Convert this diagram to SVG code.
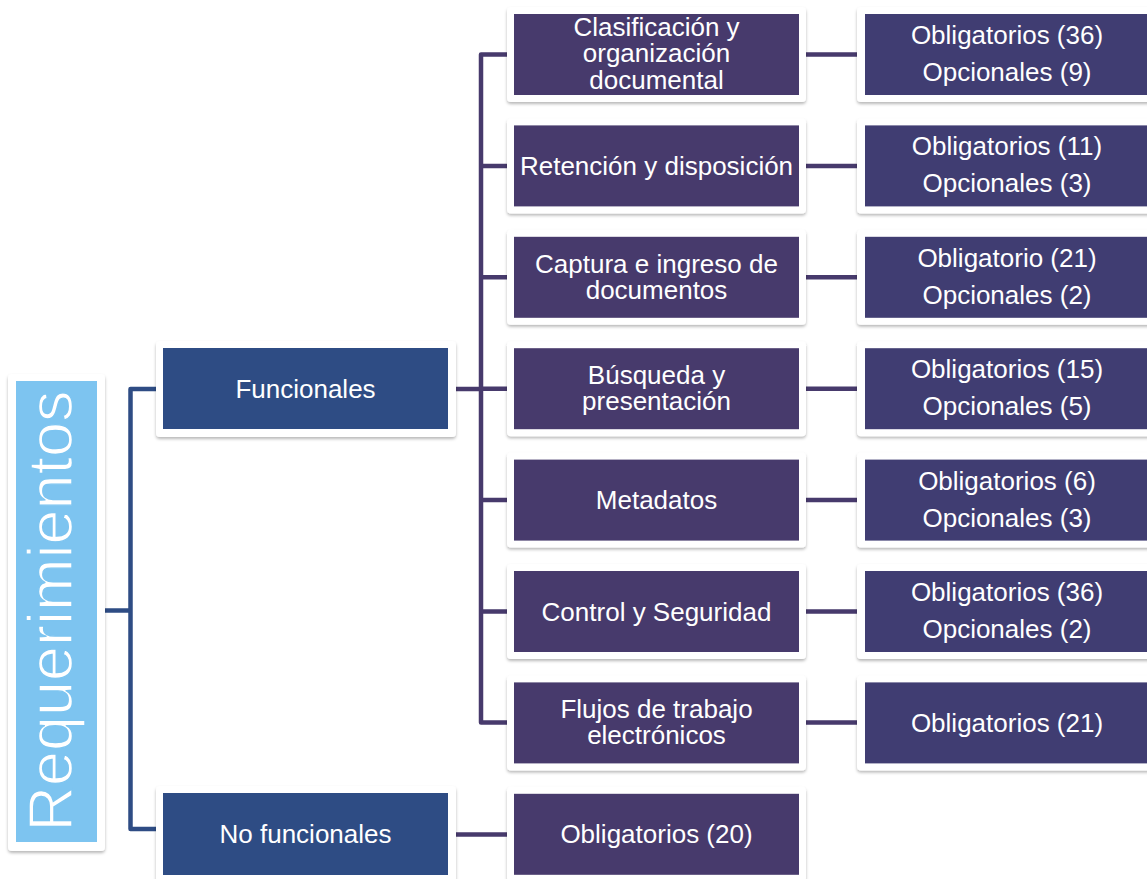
<svg xmlns="http://www.w3.org/2000/svg" width="1147" height="879" viewBox="0 0 1147 879">
<defs>
<filter id="sh" x="-10%" y="-10%" width="120%" height="130%">
<feDropShadow dx="0" dy="2" stdDeviation="1.8" flood-color="#000" flood-opacity="0.28"/>
</filter>
<style>
.card{fill:#ffffff;filter:url(#sh)}
.root{fill:#7DC4F0}
.l1{fill:#2E4C84}
.l2{fill:#473A6C}
.l3{fill:#403D72}
.t{font-family:"Liberation Sans",Arial,sans-serif;font-size:26px;fill:#ffffff;text-anchor:middle}
.big{font-family:"Liberation Sans",Arial,sans-serif;font-size:63px;fill:#ffffff;text-anchor:middle;stroke:#7DC4F0;stroke-width:1.4}
.cb{fill:none;stroke:#2E4C84;stroke-width:4.5;stroke-linejoin:round}
.cp{fill:none;stroke:#473A6C;stroke-width:4.5;stroke-linejoin:round}
</style>
</defs>
<rect width="1147" height="879" fill="#ffffff"/>

<g id="connectors">
<path class="cb" d="M105 610.5 H130.5"/>
<path class="cb" d="M158 389 H130.5 V829 H158"/>
<path class="cp" d="M456 389 H481"/>
<path class="cp" d="M509 54.5 H481 V722.5 H509"/>
<path class="cp" d="M481 165.9 H509 M481 277.3 H509 M481 388.7 H509 M481 500.1 H509 M481 611.5 H509"/>
<path class="cp" d="M456 834.5 H509"/>
<path class="cp" d="M806 54.5 H859 M806 165.9 H859 M806 277.3 H859 M806 388.7 H859 M806 500.1 H859 M806 611.5 H859 M806 722.5 H859"/>
</g>

<g id="n-requerimientos">
<rect class="card" x="8" y="374" width="97" height="477" rx="4"/>
<rect class="root" x="16" y="381" width="81" height="461"/>
<text class="big" transform="translate(72,611) rotate(-90)">Requerimientos</text>
</g>

<g id="n-funcionales">
<rect class="card" x="156" y="341" width="300" height="96" rx="4"/>
<rect class="l1" x="163" y="348" width="285" height="81"/>
<text class="t" x="305.5" y="398">Funcionales</text>
</g>

<g id="n-nofuncionales">
<rect class="card" x="156" y="786" width="300" height="96" rx="4"/>
<rect class="l1" x="163" y="793" width="285" height="82"/>
<text class="t" x="305.5" y="843">No funcionales</text>
</g>

<g id="n-clasificacion">
<rect class="card" x="507" y="7" width="299" height="95" rx="4"/>
<rect class="l2" x="514" y="14" width="285" height="81"/>
<text class="t" x="656.5" y="35.5">Clasificación y</text>
<text class="t" x="656.5" y="62">organización</text>
<text class="t" x="656.5" y="88.5">documental</text>
</g>

<g id="n-retencion">
<rect class="card" x="507" y="118.4" width="299" height="95" rx="4"/>
<rect class="l2" x="514" y="125.4" width="285" height="81"/>
<text class="t" x="656.5" y="175">Retención y disposición</text>
</g>

<g id="n-captura">
<rect class="card" x="507" y="229.8" width="299" height="95" rx="4"/>
<rect class="l2" x="514" y="236.8" width="285" height="81"/>
<text class="t" x="656.5" y="272.5">Captura e ingreso de</text>
<text class="t" x="656.5" y="298.5">documentos</text>
</g>

<g id="n-busqueda">
<rect class="card" x="507" y="341.2" width="299" height="95" rx="4"/>
<rect class="l2" x="514" y="348.2" width="285" height="81"/>
<text class="t" x="656.5" y="384">Búsqueda y</text>
<text class="t" x="656.5" y="410">presentación</text>
</g>

<g id="n-metadatos">
<rect class="card" x="507" y="452.6" width="299" height="95" rx="4"/>
<rect class="l2" x="514" y="459.6" width="285" height="81"/>
<text class="t" x="656.5" y="509">Metadatos</text>
</g>

<g id="n-control">
<rect class="card" x="507" y="564" width="299" height="95" rx="4"/>
<rect class="l2" x="514" y="571" width="285" height="81"/>
<text class="t" x="656.5" y="620.5">Control y Seguridad</text>
</g>

<g id="n-flujos">
<rect class="card" x="507" y="675.4" width="299" height="95" rx="4"/>
<rect class="l2" x="514" y="682.4" width="285" height="81"/>
<text class="t" x="656.5" y="718">Flujos de trabajo</text>
<text class="t" x="656.5" y="744">electrónicos</text>
</g>

<g id="n-oblig20">
<rect class="card" x="507" y="786.8" width="299" height="95" rx="4"/>
<rect class="l2" x="514" y="793.8" width="285" height="81"/>
<text class="t" x="656.5" y="843">Obligatorios (20)</text>
</g>

<g id="n-r1">
<rect class="card" x="857" y="7" width="300" height="95" rx="4"/>
<rect class="l3" x="865" y="14" width="290" height="81"/>
<text class="t" x="1007" y="44">Obligatorios (36)</text>
<text class="t" x="1007" y="81">Opcionales (9)</text>
</g>

<g id="n-r2">
<rect class="card" x="857" y="118.4" width="300" height="95" rx="4"/>
<rect class="l3" x="865" y="125.4" width="290" height="81"/>
<text class="t" x="1007" y="155.4">Obligatorios (11)</text>
<text class="t" x="1007" y="192.4">Opcionales (3)</text>
</g>

<g id="n-r3">
<rect class="card" x="857" y="229.8" width="300" height="95" rx="4"/>
<rect class="l3" x="865" y="236.8" width="290" height="81"/>
<text class="t" x="1007" y="266.8">Obligatorio (21)</text>
<text class="t" x="1007" y="303.8">Opcionales (2)</text>
</g>

<g id="n-r4">
<rect class="card" x="857" y="341.2" width="300" height="95" rx="4"/>
<rect class="l3" x="865" y="348.2" width="290" height="81"/>
<text class="t" x="1007" y="378.2">Obligatorios (15)</text>
<text class="t" x="1007" y="415.2">Opcionales (5)</text>
</g>

<g id="n-r5">
<rect class="card" x="857" y="452.6" width="300" height="95" rx="4"/>
<rect class="l3" x="865" y="459.6" width="290" height="81"/>
<text class="t" x="1007" y="489.6">Obligatorios (6)</text>
<text class="t" x="1007" y="526.6">Opcionales (3)</text>
</g>

<g id="n-r6">
<rect class="card" x="857" y="564" width="300" height="95" rx="4"/>
<rect class="l3" x="865" y="571" width="290" height="81"/>
<text class="t" x="1007" y="601">Obligatorios (36)</text>
<text class="t" x="1007" y="638">Opcionales (2)</text>
</g>

<g id="n-r7">
<rect class="card" x="857" y="675.4" width="300" height="95" rx="4"/>
<rect class="l3" x="865" y="682.4" width="290" height="81"/>
<text class="t" x="1007" y="731.5">Obligatorios (21)</text>
</g>
</svg>
